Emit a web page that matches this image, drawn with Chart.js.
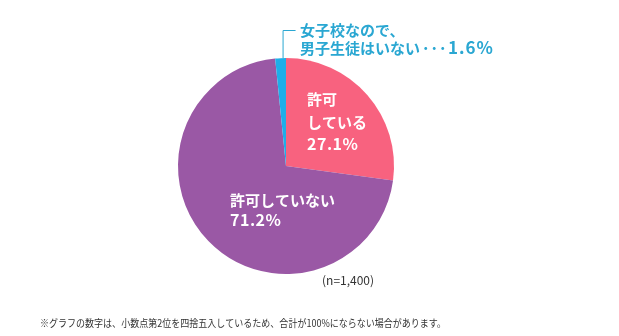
<!DOCTYPE html>
<html>
<head>
<meta charset="utf-8">
<script src="https://cdn.jsdelivr.net/npm/chart.js@4/dist/chart.umd.min.js"></script>
<style>
    html, body { margin: 0; padding: 0; background: #fff; }
    #wrap { width: 619px; height: 336px; }
</style>
</head>
<body>
<div id="wrap"><canvas id="pie" width="619" height="336"></canvas></div>
<script>
// Data
const categories = ['許可している', '許可していない', '女子校なので、男子生徒はいない'];
const values = [27.1, 71.2, 1.6];
const colors = ['#f8627f', '#9a58a5', '#1eaee8'];
const sampleNote = '(n=1,400)';
const footNote = '※グラフの数字は、小数点第2位を四捨五入しているため、合計が100%にならない場合があります。';

const FONT = '"Noto Sans CJK JP", "Noto Sans", sans-serif';

// Labels inside and outside the pie
const labelPlugin = {
    id: 'pieLabels',
    afterDraw(chart) {
        const ctx = chart.ctx;
        const arcs = chart.getDatasetMeta(0).data;
        const cx = arcs[0].x;
        const cy = arcs[0].y;
        const r = arcs[0].outerRadius;

        ctx.save();
        ctx.textBaseline = 'middle';
        ctx.textAlign = 'left';
        ctx.fillStyle = '#fff';
        ctx.font = 'bold 15px ' + FONT;

        // pink slice
        ctx.fillText('許可', cx + 21, cy - 67);
        ctx.fillText('している', cx + 21, cy - 44);
        ctx.fillText('許可していない', cx - 56, cy + 34);

        // percentages, a bit wider
        ctx.font = 'bold 16px ' + FONT;
        ctx.letterSpacing = '0.5px';
        ctx.fillText(values[0].toFixed(1) + '%', cx + 21, cy - 22);
        ctx.fillText(values[1].toFixed(1) + '%', cx - 56, cy + 54);

        // callout for the small blue slice
        const blue = arcs[2];
        const mid = (blue.startAngle + blue.endAngle) / 2;
        const px = cx + Math.cos(mid) * r + 2;
        const py = cy + Math.sin(mid) * r;
        ctx.strokeStyle = '#2aa7d2';
        ctx.lineWidth = 1;
        ctx.beginPath();
        ctx.moveTo(px + 0.5, py);
        ctx.lineTo(px + 0.5, 30.5);
        ctx.lineTo(px + 13, 30.5);
        ctx.stroke();

        ctx.fillStyle = '#2aa7d2';
        ctx.letterSpacing = '0px';
        ctx.font = 'bold 15px ' + FONT;
        ctx.fillText('女子校なので、', 300, 30);
        ctx.fillText('男子生徒はいない', 300, 48);
        ctx.letterSpacing = '1px';
        ctx.fillText('･･･', 422, 48);
        ctx.font = 'bold 17px ' + FONT;
        ctx.letterSpacing = '1px';
        ctx.fillText(values[2].toFixed(1) + '%', 448, 48);

        // notes
        ctx.letterSpacing = '0px';
        ctx.fillStyle = '#333';
        ctx.font = '12px ' + FONT;
        ctx.fillText(sampleNote, 322, 280);
        ctx.font = '10px ' + FONT;
        ctx.fillText(footNote, 40, 323, 406);
        ctx.restore();
    }
};

new Chart(document.getElementById('pie'), {
    type: 'pie',
    data: {
        labels: categories,
        datasets: [{
            data: values,
            backgroundColor: colors,
            borderWidth: 0
        }]
    },
    options: {
        responsive: false,
        animation: false,
        layout: {
            padding: { top: 58, bottom: 62, left: 0, right: 47 }
        },
        plugins: {
            legend: { display: false },
            tooltip: { enabled: false }
        }
    },
    plugins: [labelPlugin]
});
</script>
</body>
</html>
